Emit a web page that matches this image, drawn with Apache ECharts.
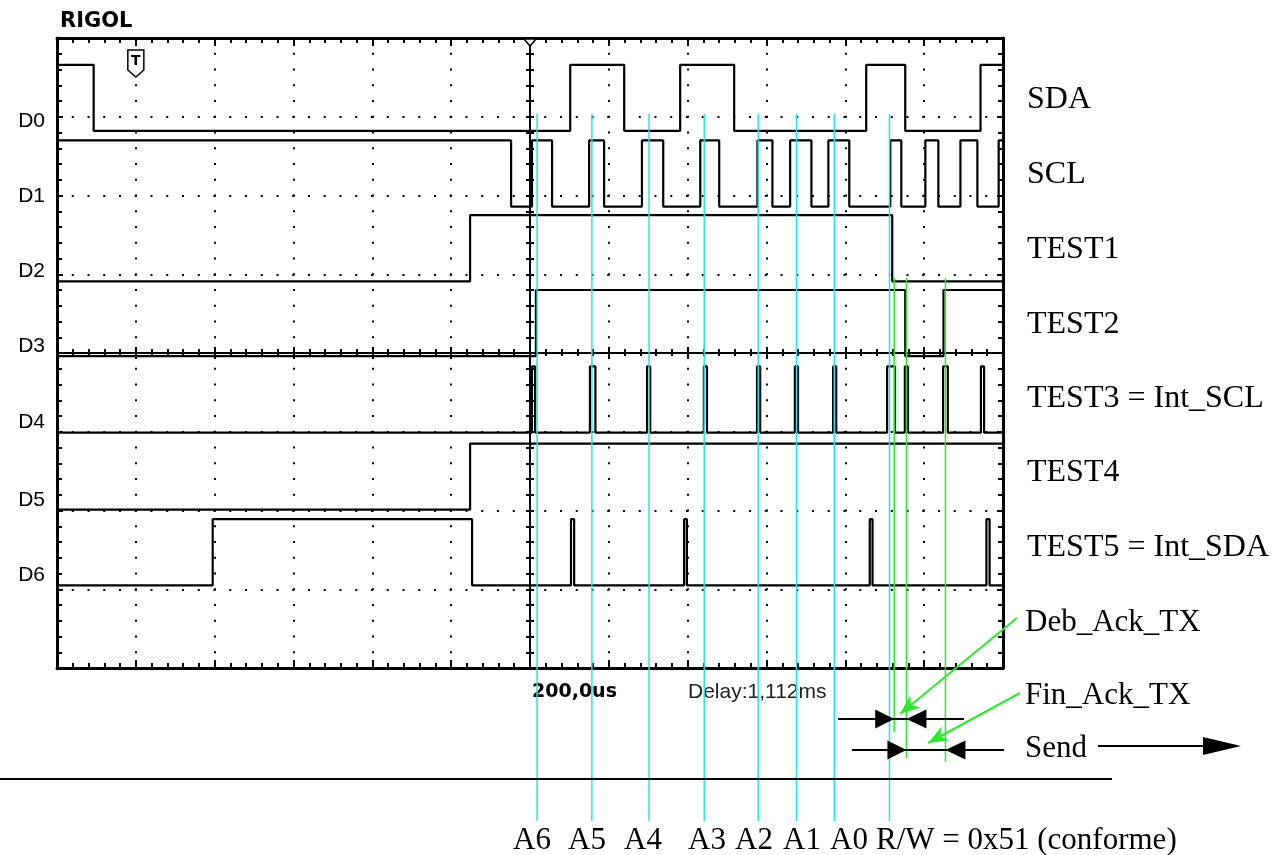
<!DOCTYPE html>
<html>
<head>
<meta charset="utf-8">
<script src="https://cdn.jsdelivr.net/npm/echarts@6/dist/echarts.min.js"></script>
<style>
html, body { margin: 0; padding: 0; background: #fff; }
#main { width: 1287px; height: 855px; }
</style>
</head>
<body>
<div id="main"></div>
<script>
// time axis in us (200us/div, trigger at 0), y axis in screen divisions (0..8)
var channelNames = ['D0', 'D1', 'D2', 'D3', 'D4', 'D5', 'D6'];
var signalNames = ['SDA', 'SCL', 'TEST1', 'TEST2', 'TEST3 = Int_SCL', 'TEST4', 'TEST5 = Int_SDA'];
var startLevel = [1, 1, 0, 0, 0, 0, 0];

// edge times (us) of each channel, level toggles at every edge
var sdaEdges = [-1107, 102, 239, 381, 518, 853, 952, 1143];
var sclEdges = [-48, 5, 56, 150, 188, 284, 338, 432, 480, 577, 615, 660, 714, 757, 810, 914, 942, 1003, 1036, 1092, 1135, 1189];
var test1Edges = [-152, 919];
var test2Edges = [15, 952, 1049];
var test3Edges = [5, 13, 152, 166, 297, 305, 441, 449, 576, 584, 672, 680, 769, 777, 906, 926, 951, 959, 1048, 1060, 1144, 1152];
var test4Edges = [-152];
var test5Edges = [-805, -147, 104, 112, 391, 398, 862, 869, 1158, 1166];
var allEdges = [sdaEdges, sclEdges, test1Edges, test2Edges, test3Edges, test4Edges, test5Edges];

// low level of each channel (divisions) and height of a high level
var channelLow = [6.82, 5.86, 4.91, 3.96, 2.99, 2.01, 1.05];
var highOffset = 0.84;

// annotation markers (us)
var bitNames = ['A6', 'A5', 'A4', 'A3', 'A2', 'A1', 'A0', 'R/W = 0x51 (conforme)'];
var bitTimes = [18, 157, 302, 442, 579, 676, 772, 912];
var ackTimes = [924, 955, 1054];

var serif = '"Liberation Serif", "Times New Roman", serif';
var sans = '"DejaVu Sans", sans-serif';
var arial = '"Liberation Sans", Arial, sans-serif';

function buildTrace(i) {
	var lvl = startLevel[i];
	var base = channelLow[i];
	var pts = [[-1200, base + lvl * highOffset]];
	allEdges[i].forEach(function(t) {
		pts.push([t, base + lvl * highOffset]);
		lvl = 1 - lvl;
		pts.push([t, base + lvl * highOffset]);
	});
	pts.push([1200, base + lvl * highOffset]);
	return pts;
}

var black = '#000';
var xBase = { type: 'value', min: -1200, max: 1200, interval: 200, axisLabel: { show: false }, splitLine: { show: false } };
var yBase = { type: 'value', min: 0, max: 8, interval: 1, axisLabel: { show: false }, splitLine: { show: false } };

function axis(base, opts) {
	return Object.assign({}, base, opts);
}
function ticks(inside, len, minorLen, width) {
	return {
		axisTick: { show: true, inside: inside, length: len, lineStyle: { color: black, width: width } },
		minorTick: { show: true, splitNumber: 5, length: minorLen, lineStyle: { color: black, width: width } }
	};
}
var dotted = { show: true, lineStyle: { color: black, width: 2, type: [2, 13.75], dashOffset: 1 } };
var frameLine = { onZero: false, lineStyle: { color: black, width: 3 } };
var centerLine = { onZero: false, lineStyle: { color: black, width: 2 } };

var xAxes = [
	axis(xBase, Object.assign({ position: 'bottom', axisLine: frameLine, splitLine: dotted }, ticks(true, 8, 5, 2))),
	axis(xBase, Object.assign({ position: 'top', axisLine: frameLine }, ticks(true, 8, 5, 2))),
	axis(xBase, Object.assign({ position: 'bottom', offset: -315, axisLine: centerLine }, ticks(true, 6, 4, 2))),
	axis(xBase, Object.assign({ position: 'bottom', offset: -315, axisLine: { show: false } }, ticks(false, 6, 3, 2)))
];
var yAxes = [
	axis(yBase, Object.assign({ position: 'left', axisLine: frameLine, splitLine: dotted }, ticks(true, 6, 5, 2))),
	axis(yBase, Object.assign({ position: 'right', axisLine: frameLine }, ticks(true, 6, 5, 2))),
	axis(yBase, Object.assign({ position: 'left', offset: -473, axisLine: centerLine }, ticks(true, 4, 4, 2))),
	axis(yBase, Object.assign({ position: 'left', offset: -473, axisLine: { show: false } }, ticks(false, 4, 4, 2)))
];

var series = channelNames.map(function(name, i) {
	return {
		name: name,
		type: 'line',
		xAxisIndex: 0,
		yAxisIndex: 0,
		data: buildTrace(i),
		showSymbol: false,
		symbol: 'none',
		lineStyle: { color: black, width: 2.2 },
		z: 5
	};
});

var chart = echarts.init(document.getElementById('main'), null, { renderer: 'canvas' });
chart.setOption({
	animation: false,
	backgroundColor: '#fff',
	grid: { left: 57, top: 38, width: 946, height: 630, containLabel: false },
	xAxis: xAxes,
	yAxis: yAxes,
	series: series
});

// overlays drawn on top of the capture
function px(t) { return chart.convertToPixel({ xAxisIndex: 0 }, t); }
function py(v) { return chart.convertToPixel({ yAxisIndex: 0 }, v); }

function text(str, x, y, font, align, color) {
	return {
		type: 'text', silent: true, z: 20,
		style: { text: str, x: x, y: y, font: font, fill: color || black,
			align: align || 'left', verticalAlign: 'middle',
			textAlign: align || 'left', textVerticalAlign: 'middle' }
	};
}
function seg(x1, y1, x2, y2, color, w) {
	return { type: 'line', silent: true, z: 20, shape: { x1: x1, y1: y1, x2: x2, y2: y2 },
		style: { stroke: color, lineWidth: w } };
}
function poly(points, fill) {
	return { type: 'polygon', silent: true, z: 21, shape: { points: points }, style: { fill: fill } };
}
function arrowHead(from, tip, len, half, color) {
	var dx = tip[0] - from[0], dy = tip[1] - from[1];
	var d = Math.sqrt(dx * dx + dy * dy);
	dx /= d; dy /= d;
	var bx = tip[0] - dx * len, by = tip[1] - dy * len;
	var nx = tip[0] - dx * len * 0.7, ny = tip[1] - dy * len * 0.7;
	return poly([tip, [bx - dy * half, by + dx * half], [nx, ny], [bx + dy * half, by - dx * half]], color);
}

var cyan = '#1ee6f2';
var green = '#2ee82e';
var els = [];

els.push(text('RIGOL', 60, 22, 'bold 21px ' + sans));
channelNames.forEach(function(n, i) {
	els.push(text(n, 45, py(channelLow[i]) - 10, '21px ' + arial, 'right'));
});
var signalY = [100, 175, 250, 325, 399, 473, 548];
signalNames.forEach(function(n, i) {
	els.push(text(n, 1027, signalY[i], '32px ' + serif));
});

// trigger marker and top trigger position
var tx = px(-1000);
els.push({ type: 'polygon', silent: true, z: 20,
	shape: { points: [[tx - 8, 50], [tx + 8, 50], [tx + 8, 70], [tx, 77], [tx - 8, 70]] },
	style: { fill: '#fff', stroke: black, lineWidth: 1.5 } });
els.push(text('T', tx, 61, 'bold 14px ' + sans, 'center'));
var cx = px(0);
els.push({ type: 'polygon', silent: true, z: 20,
	shape: { points: [[cx - 6, 39], [cx + 6, 39], [cx, 46]] },
	style: { fill: '#fff', stroke: black, lineWidth: 1.5 } });

els.push(text('200,0us', 532, 692, 'bold 19px ' + sans));
els.push(text('Delay:1,112ms', 688, 692, '21px ' + arial, 'left', '#222'));

// bit markers
bitTimes.forEach(function(t) {
	var x = px(t);
	els.push(seg(x, 114, x, 821, cyan, 1.5));
});
var bitLabelX = [513, 568, 624, 688, 735, 783, 830, 876];
bitNames.forEach(function(n, i) {
	els.push(text(n, bitLabelX[i], 841, '31px ' + serif));
});

// ack markers
var greenBottom = [732, 758, 762];
ackTimes.forEach(function(t, i) {
	var x = px(t);
	els.push(seg(x, 278, x, greenBottom[i], green, 1.5));
});

// dimension arrows
function dimension(xa, xb, y, x0, x1) {
	els.push(seg(x0, y, x1, y, black, 2));
	els.push(poly([[xa - 19, y - 9.5], [xa, y], [xa - 19, y + 9.5]], black));
	els.push(poly([[xb + 20, y - 9.5], [xb, y], [xb + 20, y + 9.5]], black));
}
dimension(px(ackTimes[0]), px(ackTimes[1]), 719, 838, 964);
dimension(px(ackTimes[1]), px(ackTimes[2]), 750, 852, 1004);

// green pointers
var debFrom = [1017, 618], debTip = [900, 714];
var finFrom = [1020, 693], finTip = [928, 743];
els.push(seg(debFrom[0], debFrom[1], debTip[0], debTip[1], green, 2));
els.push(arrowHead(debFrom, debTip, 20, 8, green));
els.push(seg(finFrom[0], finFrom[1], finTip[0], finTip[1], green, 2));
els.push(arrowHead(finFrom, finTip, 20, 8, green));
els.push(text('Deb_Ack_TX', 1025, 623, '31px ' + serif));
els.push(text('Fin_Ack_TX', 1025, 696, '31px ' + serif));
els.push(text('Send', 1025, 749, '31px ' + serif));
els.push(seg(1098, 746, 1210, 746, black, 2));
els.push(poly([[1203, 737], [1241, 746], [1203, 755]], black));

// separator
els.push(seg(0, 779, 1112, 779, black, 2));

chart.setOption({ graphic: { elements: els } });
</script>
</body>
</html>
